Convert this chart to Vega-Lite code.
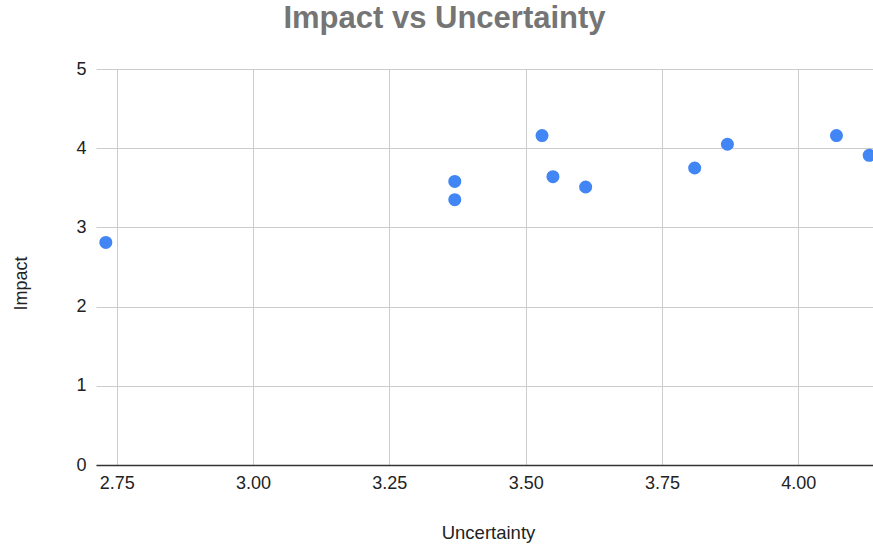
{
  "$schema": "https://vega.github.io/schema/vega-lite/v6.json",
  "autosize": "none",
  "width": 777,
  "height": 396,
  "padding": {"left": 96, "top": 69, "right": 0, "bottom": 79},
  "background": "white",
  "title": {
    "text": "Impact vs Uncertainty",
    "font": "Liberation Sans",
    "fontSize": 31,
    "fontWeight": "bold",
    "color": "#757575",
    "anchor": "middle",
    "dx": -40,
    "offset": 25
  },
  "data": {
    "values": [
      {"Uncertainty": 2.73, "Impact": 2.81},
      {"Uncertainty": 3.37, "Impact": 3.58},
      {"Uncertainty": 3.37, "Impact": 3.35},
      {"Uncertainty": 3.53, "Impact": 4.16},
      {"Uncertainty": 3.55, "Impact": 3.64},
      {"Uncertainty": 3.61, "Impact": 3.51},
      {"Uncertainty": 3.81, "Impact": 3.75},
      {"Uncertainty": 3.87, "Impact": 4.05},
      {"Uncertainty": 4.07, "Impact": 4.16},
      {"Uncertainty": 4.13, "Impact": 3.91}
    ]
  },
  "mark": {"type": "circle", "size": 170, "color": "#4285F4", "opacity": 1},
  "encoding": {
    "x": {
      "field": "Uncertainty",
      "type": "quantitative",
      "scale": {"domain": [2.712, 4.137], "nice": false, "zero": false},
      "axis": {
        "values": [2.75, 3.0, 3.25, 3.5, 3.75, 4.0],
        "format": ".2f",
        "title": "Uncertainty",
        "titleFont": "Liberation Sans",
        "titleFontSize": 18.5,
        "titleFontWeight": "normal",
        "titleColor": "#222222",
        "titleX": 392,
        "titleY": 73,
        "titleBaseline": "alphabetic",
        "labelFont": "Liberation Sans",
        "labelFontSize": 18,
        "labelColor": "#222222",
        "labelPadding": 9,
        "ticks": false,
        "domainColor": "#333333",
        "domainWidth": 1.5,
        "gridColor": "#cccccc",
        "gridWidth": 1
      }
    },
    "y": {
      "field": "Impact",
      "type": "quantitative",
      "scale": {"domain": [0, 5], "nice": false},
      "axis": {
        "values": [0, 1, 2, 3, 4, 5],
        "title": "Impact",
        "titleFont": "Liberation Sans",
        "titleFontSize": 18,
        "titleFontWeight": "normal",
        "titleColor": "#222222",
        "titleX": -70,
        "titleY": 214,
        "titleBaseline": "alphabetic",
        "titleAngle": -90,
        "labelFont": "Liberation Sans",
        "labelFontSize": 18,
        "labelColor": "#222222",
        "labelPadding": 10,
        "ticks": false,
        "domain": false,
        "gridColor": "#cccccc",
        "gridWidth": 1
      }
    }
  },
  "config": {"view": {"stroke": null}}
}
